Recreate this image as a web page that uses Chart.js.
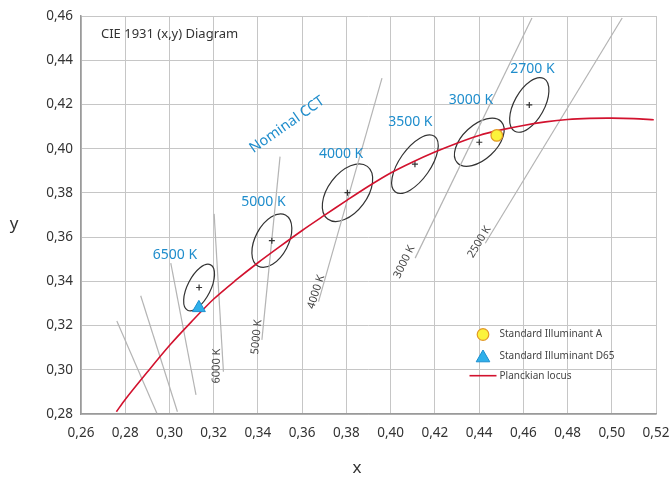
<!DOCTYPE html>
<html>
<head>
<meta charset="utf-8">
<script src="https://cdn.jsdelivr.net/npm/chart.js@4.4.0/dist/chart.umd.min.js"></script>
<style>
  html, body { margin: 0; padding: 0; background: #fff; }
</style>
</head>
<body>
<canvas id="cie" width="669" height="480"></canvas>
<script>
// nominal CCT ellipses (centre, semi axes in x/y units, tilt in degrees)
const cctNames = ['6500 K', '5000 K', '4000 K', '3500 K', '3000 K', '2700 K'];
const centerX = [0.3134, 0.3463, 0.3805, 0.4110, 0.4401, 0.4627];
const centerY = [0.3372, 0.3584, 0.3801, 0.3930, 0.4029, 0.4198];
const semiMajor = [0.0115, 0.0131, 0.0149, 0.0154, 0.0136, 0.0136];
const semiMinor = [0.0052, 0.0075, 0.0088, 0.0070, 0.0077, 0.0068];
const tiltDeg = [63, 62, 53, 55, 43, 61];

// planckian locus
const locusX = [0.276, 0.28, 0.29, 0.30, 0.31, 0.32, 0.33, 0.34, 0.35, 0.36, 0.37, 0.38, 0.39,
                0.40, 0.41, 0.42, 0.43, 0.44, 0.45, 0.46, 0.47, 0.48, 0.49, 0.50, 0.51, 0.519];
const locusY = [0.281, 0.2866, 0.299, 0.311, 0.3218, 0.332, 0.3405, 0.3484, 0.3558, 0.3630, 0.3698, 0.3765, 0.3830,
                0.3890, 0.3940, 0.3985, 0.4025, 0.4060, 0.4085, 0.4105, 0.4121, 0.4132, 0.4137, 0.4138, 0.4136, 0.4131];

// isotemperature lines
const isoNames = ['', '', '', '6000 K', '5000 K', '4000 K', '3000 K', '2500 K'];
const isoX1 = [0.2762, 0.2870, 0.3006, 0.3202, 0.3418, 0.3674, 0.4111, 0.4428];
const isoY1 = [0.3221, 0.3335, 0.3482, 0.3705, 0.3135, 0.3308, 0.3505, 0.3572];
const isoX2 = [0.2943, 0.3036, 0.3120, 0.3244, 0.3500, 0.3961, 0.4639, 0.5047];
const isoY2 = [0.2803, 0.2810, 0.2886, 0.2991, 0.3964, 0.4319, 0.4591, 0.4591];

// standard illuminants
const illumA = [0.448, 0.406];
const illumD65 = [0.3133, 0.328];

const xMin = 0.26, xMax = 0.52, yMin = 0.28, yMax = 0.46, tickStep = 0.02;

// where the text annotations sit (in chart units)
const cctLabelAt = [[0.3025, 0.3520], [0.3425, 0.3759], [0.3776, 0.3977], [0.4089, 0.4121], [0.4363, 0.4221], [0.4641, 0.4361]];
const isoLabelAt = [null, null, null, [0.3213, 0.3017], [0.3394, 0.3148], [0.3663, 0.3352], [0.4062, 0.3488], [0.4401, 0.3578]];
const isoLabelAngle = [0, 0, 0, -89, -84, -72, -64, -59];

const FONT = '"Noto Sans", sans-serif';
const BLUE = '#1f8dcc';
const RED = '#d2122e';

const fmt = v => v.toFixed(2).replace('.', ',');

let datasets = [];
datasets.push({
    label: 'Standard Illuminant A',
    data: [{x: illumA[0], y: illumA[1]}],
    pointStyle: 'circle', pointRadius: 5.8,
    backgroundColor: '#fbf33c', borderColor: '#e39a26', borderWidth: 1.2,
    order: 0,
});
datasets.push({
    label: 'Standard Illuminant D65',
    data: [{x: illumD65[0], y: illumD65[1]}],
    pointStyle: 'triangle', pointRadius: 7.5,
    backgroundColor: '#2fb0ea', borderColor: '#1c8fd0', borderWidth: 1,
    order: 0,
});
datasets.push({
    type: 'line',
    label: 'Planckian locus',
    data: locusX.map((v, i) => ({x: v, y: locusY[i]})),
    borderColor: RED, borderWidth: 1.6, pointRadius: 0, tension: 0.3,
    order: 1,
});
datasets.push({
    label: 'centres',
    data: centerX.map((v, i) => ({x: v, y: centerY[i]})),
    pointStyle: 'cross', pointRadius: 3, borderColor: '#333', borderWidth: 1.2,
    order: 2,
});
isoX1.forEach((v, i) => {
    datasets.push({
        type: 'line',
        label: isoNames[i],
        data: [{x: v, y: isoY1[i]}, {x: isoX2[i], y: isoY2[i]}],
        borderColor: '#b4b4b4', borderWidth: 1.2, pointRadius: 0,
        order: 3,
    });
});

function text(ctx, str, px, py, opts) {
    ctx.save();
    ctx.font = opts.font;
    ctx.fillStyle = opts.color;
    ctx.textAlign = opts.align || 'center';
    ctx.textBaseline = 'middle';
    ctx.translate(px, py);
    if (opts.angle) ctx.rotate(opts.angle * Math.PI / 180);
    ctx.fillText(str, 0, 0);
    ctx.restore();
}

const overlay = {
    id: 'overlay',
    beforeDatasetsDraw(chart) {
        const {ctx, scales: {x, y}} = chart;
        ctx.save();
        ctx.strokeStyle = '#333';
        ctx.lineWidth = 1.2;
        for (let i = 0; i < cctNames.length; i++) {
            const t = tiltDeg[i] * Math.PI / 180;
            const cx = x.getPixelForValue(centerX[i]);
            const cy = y.getPixelForValue(centerY[i]);
            const ax = x.getPixelForValue(centerX[i] + semiMajor[i] * Math.cos(t)) - cx;
            const ay = y.getPixelForValue(centerY[i] + semiMajor[i] * Math.sin(t)) - cy;
            const bx = x.getPixelForValue(centerX[i] - semiMinor[i] * Math.sin(t)) - cx;
            const by = y.getPixelForValue(centerY[i] + semiMinor[i] * Math.cos(t)) - cy;
            ctx.beginPath();
            ctx.ellipse(cx, cy, Math.hypot(ax, ay), Math.hypot(bx, by), Math.atan2(ay, ax), 0, 2 * Math.PI);
            ctx.stroke();
        }
        ctx.restore();
    },
    afterDraw(chart) {
        const {ctx, chartArea: area, scales: {x, y}} = chart;

        // blue CCT labels
        cctNames.forEach((name, i) => {
            text(ctx, name, x.getPixelForValue(cctLabelAt[i][0]), y.getPixelForValue(cctLabelAt[i][1]),
                 {font: '14px ' + FONT, color: BLUE});
        });
        text(ctx, 'Nominal CCT', x.getPixelForValue(0.3532), y.getPixelForValue(0.4108),
             {font: '14.5px ' + FONT, color: BLUE, angle: -35});

        // isotemperature labels
        isoNames.forEach((name, i) => {
            if (!name) return;
            text(ctx, name, x.getPixelForValue(isoLabelAt[i][0]), y.getPixelForValue(isoLabelAt[i][1]),
                 {font: '11px ' + FONT, color: '#444', angle: isoLabelAngle[i]});
        });

        // title and axis names
        text(ctx, 'CIE 1931 (x,y) Diagram', area.left + 20, area.top + 18,
             {font: '13px ' + FONT, color: '#333', align: 'left'});
        text(ctx, 'y', 14, 224, {font: '17px ' + FONT, color: '#333'});
        text(ctx, 'x', 357, 468, {font: '17px ' + FONT, color: '#333'});

        // legend
        const lx = 483, tx = 499.5;
        ctx.save();
        ctx.fillStyle = '#fbf33c';
        ctx.strokeStyle = '#e39a26';
        ctx.lineWidth = 1.2;
        ctx.beginPath();
        ctx.arc(lx, 334.5, 5.8, 0, 2 * Math.PI);
        ctx.fill();
        ctx.stroke();
        ctx.fillStyle = '#2fb0ea';
        ctx.strokeStyle = '#1c8fd0';
        ctx.lineWidth = 1;
        ctx.beginPath();
        ctx.moveTo(lx, 350);
        ctx.lineTo(lx + 6.8, 361.8);
        ctx.lineTo(lx - 6.8, 361.8);
        ctx.closePath();
        ctx.fill();
        ctx.stroke();
        ctx.strokeStyle = RED;
        ctx.lineWidth = 1.6;
        ctx.beginPath();
        ctx.moveTo(469.5, 375.7);
        ctx.lineTo(496.5, 375.7);
        ctx.stroke();
        ctx.restore();
        const lf = {font: '10px ' + FONT, color: '#444', align: 'left'};
        text(ctx, 'Standard Illuminant A', tx, 334.5, lf);
        text(ctx, 'Standard Illuminant D65', tx, 356, lf);
        text(ctx, 'Planckian locus', tx, 376, lf);
    }
};

const axisBase = {
    type: 'linear',
    grid: {color: '#c6c6c6', lineWidth: 1, drawTicks: false},
    border: {color: '#9a9a9a', width: 1.5},
};

new Chart(document.getElementById('cie'), {
    type: 'scatter',
    data: {datasets: datasets},
    options: {
        responsive: false,
        animation: false,
        layout: {padding: {top: 16, right: 13, left: 0, bottom: 0}},
        plugins: {legend: {display: false}, tooltip: {enabled: false}},
        scales: {
            x: Object.assign({}, axisBase, {
                min: xMin, max: xMax,
                ticks: {stepSize: tickStep, callback: fmt, color: '#333', font: {family: FONT, size: 13.5},
                        padding: 11, maxRotation: 0, autoSkip: false},
                afterFit: s => { s.height = 66; s.paddingLeft = 0; s.paddingRight = 0; },
            }),
            y: Object.assign({}, axisBase, {
                min: yMin, max: yMax,
                ticks: {stepSize: tickStep, callback: fmt, color: '#333', font: {family: FONT, size: 13.5},
                        padding: 8},
                afterFit: s => { s.width = 81; s.paddingTop = 0; s.paddingBottom = 0; },
            }),
        },
    },
    plugins: [overlay],
});
</script>
</body>
</html>
